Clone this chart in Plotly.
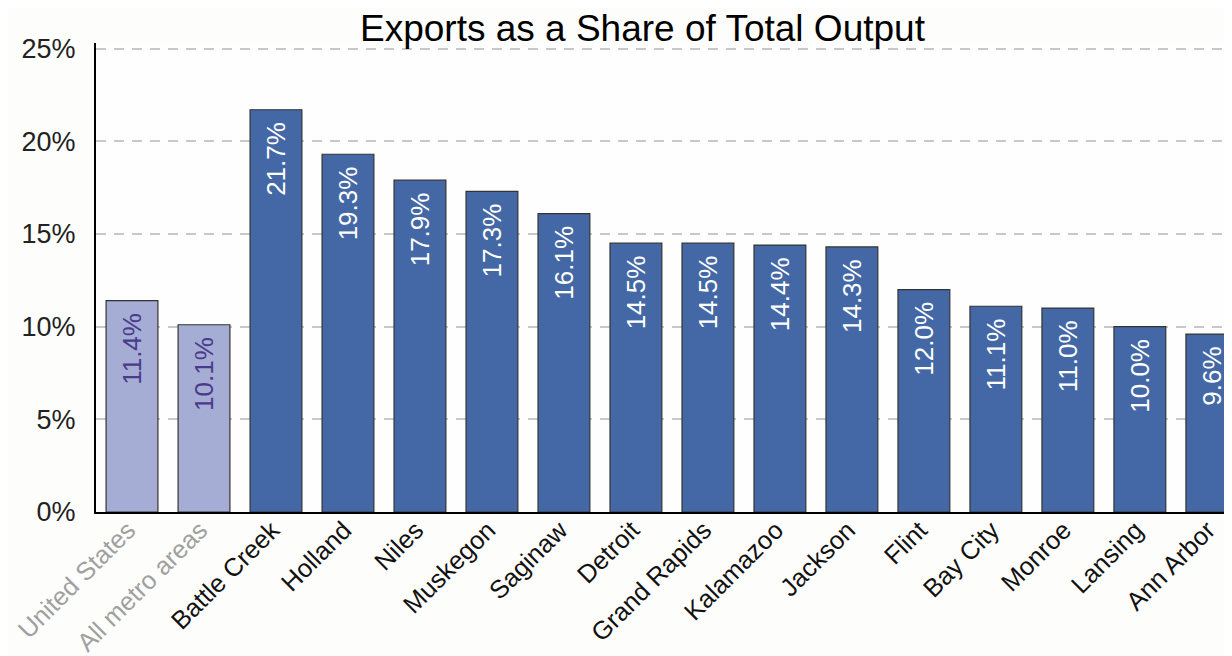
import plotly.graph_objects as go

categories = ["United States", "All metro areas", "Battle Creek", "Holland", "Niles",
              "Muskegon", "Saginaw", "Detroit", "Grand Rapids", "Kalamazoo", "Jackson",
              "Flint", "Bay City", "Monroe", "Lansing", "Ann Arbor"]
values = [11.4, 10.1, 21.7, 19.3, 17.9, 17.3, 16.1, 14.5, 14.5, 14.4, 14.3,
          12.0, 11.1, 11.0, 10.0, 9.6]
benchmark = [True, True] + [False] * 14
y_ticks = [0, 5, 10, 15, 20, 25]

LIGHT = "#a5add5"
DARK = "#4468a5"

colors = [LIGHT if b else DARK for b in benchmark]
text_colors = ["#4a3a8c" if b else "white" for b in benchmark]
labels = [f"{v:.1f}%\u00a0\u200a" for v in values]
ticktext = [f"<span style='color:#a0a0a0'>{c}</span>" if b else c
            for c, b in zip(categories, benchmark)]

fig = go.Figure(go.Bar(
    x=list(range(len(categories))), y=values,
    marker=dict(color=colors, line=dict(color="#333333", width=1.2)),
    width=0.72,
    text=labels, textposition="inside", insidetextanchor="end", textangle=-90,
    textfont=dict(family="Arial, Liberation Sans", size=26, color=text_colors),
    cliponaxis=False,
))

fig.update_layout(
    width=1232, height=656,
    margin=dict(l=88, r=8, t=35, b=152),
    paper_bgcolor="#fdfdfb", plot_bgcolor="#fefefe",
    showlegend=False,
    uniformtext=dict(mode=False),
    title=dict(text="Exports as a Share of Total Output", x=0.515, xanchor="center",
               y=0.970, yanchor="middle",
               font=dict(family="Arial, Liberation Sans", size=37, color="black")),
    font=dict(family="Arial, Liberation Sans", color="#222222"),
)
fig.update_xaxes(
    range=[-0.5, 15.28], tickmode="array", tickvals=list(range(len(categories))),
    ticktext=ticktext, tickangle=-45, tickfont=dict(size=25.5, color="#111111"),
    showline=True, linecolor="black", linewidth=2, showgrid=False, ticks="",
    ticklabelstandoff=-9, ticklabelshift=-4, automargin=False,
)
fig.update_yaxes(
    range=[0, 25.3], tickmode="array", tickvals=y_ticks,
    ticktext=[f"{t}%" for t in y_ticks], tickfont=dict(size=27, color="#222222"),
    showline=True, linecolor="black", linewidth=2,
    showgrid=True, gridcolor="#c8c8c8", gridwidth=2, griddash="10px,8px",
    zeroline=False, ticks="", ticklabelstandoff=13, automargin=False,
)
fig.write_html("out.html")
